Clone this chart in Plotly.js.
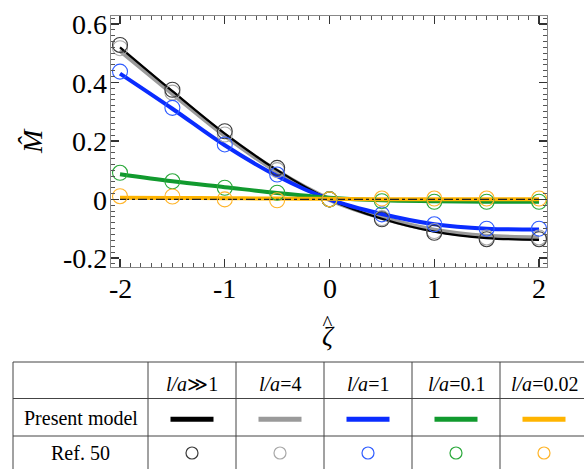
<!DOCTYPE html>
<html>
<head>
<meta charset="utf-8">
<script src="https://cdn.plot.ly/plotly-3.0.1.min.js"></script>
<style>
html,body{margin:0;padding:0;background:#fff;}
#chart{width:584px;height:469px;}
</style>
</head>
<body>
<div id="chart"></div>
<script>
// ---- data ----
var seriesNames = ["l/a≫1", "l/a=4", "l/a=1", "l/a=0.1", "l/a=0.02"];
var headerLabels = ["<i>l/a</i>≫1", "<i>l/a</i>=4", "<i>l/a</i>=1", "<i>l/a</i>=0.1", "<i>l/a</i>=0.02"];
var rowLabels = ["Present model", "Ref. 50"];

var zetaLine = [-2, -1.5, -1, -0.5, 0, 0.5, 1, 1.5, 2];
var lineBlack  = [0.52, 0.37, 0.225, 0.100, 0.0, -0.066, -0.110, -0.132, -0.138];
var lineGray   = [0.51, 0.363, 0.219, 0.096, 0.0, -0.062, -0.105, -0.126, -0.131];
var lineBlue   = [0.43, 0.310, 0.185, 0.080, 0.0, -0.050, -0.085, -0.100, -0.103];
var lineGreen  = [0.086, 0.062, 0.042, 0.022, 0.006, -0.003, -0.006, -0.008, -0.008];
var lineOrange = [0.006, 0.005, 0.004, 0.003, 0.002, 0.001, 0.001, 0.001, 0.001];

var zetaRef = [-2, -1.5, -1, -0.5, 0, 0.5, 1, 1.5, 2];
var refBlack  = [0.528, 0.375, 0.233, 0.108, 0.0, -0.068, -0.114, -0.136, -0.136];
var refGray   = [0.517, 0.365, 0.222, 0.100, 0.0, -0.064, -0.108, -0.130, -0.130];
var refBlue   = [0.437, 0.313, 0.188, 0.085, 0.0, -0.051, -0.085, -0.100, -0.100];
var refGreen  = [0.091, 0.062, 0.040, 0.023, 0.0, -0.006, -0.008, -0.008, -0.008];
var refOrange = [0.011, 0.010, 0.000, -0.003, 0.0, 0.003, 0.003, 0.003, 0.003];

var zeroLineX = [-2, 2];
var zeroLineY = [0, 0];

var xTickVals = [-2, -1, 0, 1, 2];
var xTickText = ["-2", "-1", "0", "1", "2"];
var yTickVals = [-0.2, 0, 0.2, 0.4, 0.6];
var yTickText = ["-0.2", "0", "0.2", "0.4", "0.6"];

// ---- styles ----
var lineColors   = ["#000000", "#9a9a9a", "#0a2cff", "#119a2e", "#ffb400"];
var markerColors = ["#3a3a3a", "#a8a8a8", "#2f5cff", "#2aa83a", "#ffb428"];
var lineWidths   = [2.2, 5, 4, 4, 4];

var W = 584, H = 469;
var plotL = 111, plotR = 547, plotT = 16, plotB = 267;
function px(x){ return x / W; }
function py(y){ return 1 - y / H; }

var FONT = "Liberation Serif";

var lineData = [lineBlack, lineGray, lineBlue, lineGreen, lineOrange];
var refData  = [refBlack, refGray, refBlue, refGreen, refOrange];

var traces = [];
var drawOrder = [1, 0, 2, 3, 4];
drawOrder.forEach(function(i){
  traces.push({
    x: zetaLine, y: lineData[i], type: "scatter", mode: "lines",
    name: seriesNames[i] + " model",
    line: {color: lineColors[i], width: lineWidths[i], shape: "spline", smoothing: 1.0},
    showlegend: false, hoverinfo: "skip"
  });
});
traces.push({
  x: zeroLineX, y: zeroLineY, type: "scatter", mode: "lines",
  line: {color: "#222", width: 1.3, dash: "dashdot"}, showlegend: false, hoverinfo: "skip"
});
drawOrder.forEach(function(i){
  traces.push({
    x: zetaRef, y: refData[i], type: "scatter", mode: "markers",
    name: seriesNames[i] + " Ref. 50",
    marker: {symbol: "circle-open", size: 15, color: markerColors[i], line: {width: 1.1, color: markerColors[i]}},
    showlegend: false, hoverinfo: "skip"
  });
});

// ---- table ----
var colEdges = [13, 148, 236, 324, 412, 500, 588];
var rowEdges = [362, 398.5, 436, 475];
var shapes = [];
var gridColor = "#444";
rowEdges.forEach(function(y){
  shapes.push({type: "line", xref: "paper", yref: "paper",
    x0: px(colEdges[0]), x1: px(colEdges[colEdges.length-1]), y0: py(y), y1: py(y),
    line: {color: gridColor, width: 1}});
});
colEdges.forEach(function(x){
  shapes.push({type: "line", xref: "paper", yref: "paper",
    x0: px(x), x1: px(x), y0: py(rowEdges[0]), y1: py(rowEdges[rowEdges.length-1]),
    line: {color: gridColor, width: 1}});
});
var annotations = [];
var rowCenters = [384, 417.5, 453];
for (var c = 0; c < 5; c++) {
  var cx = (colEdges[c+1] + colEdges[c+2]) / 2;
  annotations.push({xref: "paper", yref: "paper", x: px(cx), y: py(rowCenters[0]),
    text: headerLabels[c], showarrow: false, xanchor: "center", yanchor: "middle",
    font: {family: FONT, size: 20, color: "#000"}});
  shapes.push({type: "rect", xref: "paper", yref: "paper",
    x0: px(cx - 21.5), x1: px(cx + 21.5), y0: py(419.3 + 2.5), y1: py(419.3 - 2.5),
    fillcolor: lineColors[c], line: {width: 0}});
  shapes.push({type: "circle", xref: "paper", yref: "paper",
    x0: px(cx - 6), x1: px(cx + 6), y0: py(453 + 6), y1: py(453 - 6),
    line: {color: markerColors[c], width: 1.2}, fillcolor: "rgba(0,0,0,0)"});
}
var c0 = (colEdges[0] + colEdges[1]) / 2;
annotations.push({xref: "paper", yref: "paper", x: px(c0), y: py(rowCenters[1]),
  text: rowLabels[0], showarrow: false, xanchor: "center", yanchor: "middle",
  font: {family: FONT, size: 20, color: "#000"}});
annotations.push({xref: "paper", yref: "paper", x: px(c0), y: py(rowCenters[2]),
  text: rowLabels[1], showarrow: false, xanchor: "center", yanchor: "middle",
  font: {family: FONT, size: 20, color: "#000"}});

// tick labels (hyphen-minus as in the reference), placed through the axes
xTickVals.forEach(function(v, i){
  annotations.push({xref: "x", yref: "paper", x: v, y: py(288.5),
    text: xTickText[i], showarrow: false, xanchor: "center", yanchor: "middle",
    font: {family: FONT, size: 28, color: "#000"}});
});
yTickVals.forEach(function(v, i){
  annotations.push({xref: "paper", yref: "y", x: px(108.5), y: v, yshift: -1,
    text: yTickText[i], showarrow: false, xanchor: "right", yanchor: "middle",
    font: {family: FONT, size: 28, color: "#000"}});
});

// axis titles
annotations.push({xref: "paper", yref: "paper", x: px(32), y: py(141),
  text: "<i>M\u0302</i>", textangle: -90, showarrow: false, xanchor: "center", yanchor: "middle",
  font: {family: FONT, size: 28, color: "#000"}});
annotations.push({xref: "paper", yref: "paper", x: px(328), y: py(331),
  text: "<span style='font-size:21px'>^</span><br><span style='font-size:27px'><i>\u03B6</i></span>",
  showarrow: false, xanchor: "center", yanchor: "middle", align: "center",
  font: {family: FONT, size: 11.5, color: "#000"}});

var axisCommon = {
  showgrid: false, zeroline: false, showline: true, linecolor: "#888", linewidth: 1.2,
  mirror: "allticks", ticks: "inside", ticklen: 8, tickwidth: 1.2, tickcolor: "#333",
  showticklabels: false
};

var layout = {
  width: W, height: H,
  margin: {l: 0, r: 0, t: 0, b: 0},
  paper_bgcolor: "#fff", plot_bgcolor: "#fff",
  font: {family: FONT, color: "#000"},
  showlegend: false,
  xaxis: Object.assign({}, axisCommon, {
    domain: [px(plotL), px(plotR)], range: [-2.086, 2.076],
    tickvals: xTickVals,
    minor: {dtick: 0.1, tick0: 0, ticks: "inside", ticklen: 4, tickwidth: 1, tickcolor: "#555"}
  }),
  yaxis: Object.assign({}, axisCommon, {
    domain: [py(plotB), py(plotT)], range: [-0.231, 0.627],
    tickvals: yTickVals,
    minor: {dtick: 0.02, tick0: 0, ticks: "inside", ticklen: 4, tickwidth: 1, tickcolor: "#555"}
  }),
  shapes: shapes,
  annotations: annotations
};

Plotly.newPlot("chart", traces, layout, {staticPlot: true, displayModeBar: false});
</script>
</body>
</html>
